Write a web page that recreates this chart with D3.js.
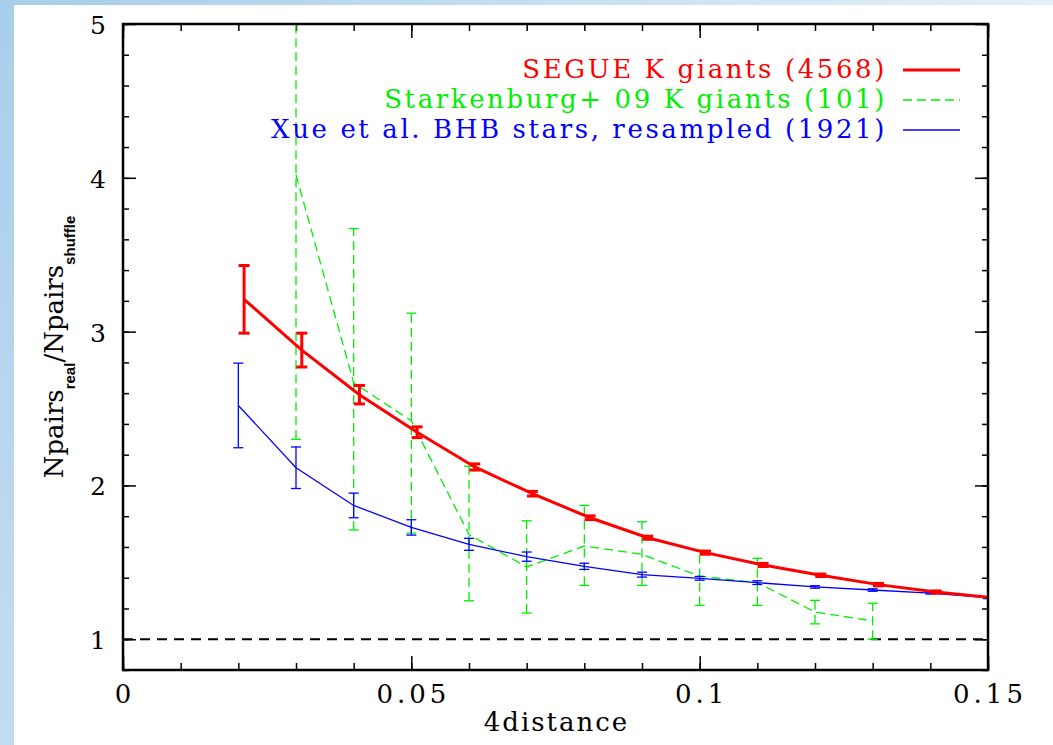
<!DOCTYPE html>
<html>
<head>
<meta charset="utf-8">
<script src="https://cdn.jsdelivr.net/npm/d3@7"></script>
<style>
  html, body { margin: 0; padding: 0; background: #fff; }
  svg { display: block; }
</style>
</head>
<body>
<svg id="chart" width="1053" height="745"></svg>
<script>
// ---------------- data ----------------
const segueX   = [0.021, 0.031, 0.041, 0.051, 0.061, 0.071, 0.081, 0.091, 0.101, 0.111, 0.121, 0.131, 0.141, 0.151];
const segueY   = [3.21, 2.88, 2.59, 2.346, 2.12, 1.946, 1.79, 1.66, 1.563, 1.483, 1.416, 1.355, 1.307, 1.27];
const segueErr = [0.22, 0.11, 0.06, 0.035, 0.02, 0.015, 0.012, 0.01, 0.01, 0.01, 0.008, 0.008, 0.007, 0.007];

const starkX    = [0.03, 0.04, 0.05, 0.06, 0.07, 0.08, 0.09, 0.10, 0.11, 0.12, 0.13];
const starkY    = [4.02, 2.667, 2.42, 1.68, 1.47, 1.606, 1.552, 1.41, 1.368, 1.177, 1.119];
const starkLow  = [2.30, 1.71, 1.69, 1.25, 1.17, 1.35, 1.35, 1.22, 1.22, 1.10, 1.00];
const starkHigh = [5.75, 3.67, 3.12, 2.125, 1.77, 1.87, 1.764, 1.578, 1.526, 1.253, 1.234];

const xueX   = [0.02, 0.03, 0.04, 0.05, 0.06, 0.07, 0.08, 0.09, 0.10, 0.11, 0.12, 0.13, 0.14, 0.15];
const xueY   = [2.52, 2.115, 1.87, 1.727, 1.617, 1.537, 1.474, 1.42, 1.396, 1.368, 1.34, 1.32, 1.30, 1.27];
const xueErr = [0.275, 0.135, 0.08, 0.05, 0.039, 0.03, 0.02, 0.016, 0.012, 0.012, 0.008, 0.008, 0.006, 0.006];

const xTickLabels = ["0", "0.05", "0.1", "0.15"];
const xTickValues = [0, 0.05, 0.1, 0.15];
const yTickValues = [1, 2, 3, 4, 5];
const yTickLabels = ["1", "2", "3", "4", "5"];

const legendLabels = ["SEGUE K giants (4568)", "Starkenburg+ 09 K giants (101)", "Xue et al. BHB stars, resampled (1921)"];
const xLabel = "4distance";

// ---------------- layout ----------------
const svg = d3.select("#chart");
const W = 1053, H = 745;
const L = 123, R = 988, T = 24, B = 670;

const x = d3.scaleLinear().domain([0, 0.15]).range([L, R]);
const y = d3.scaleLinear().domain([0.8, 5]).range([B, T]);

// background
const defs = svg.append("defs");
const gTop = defs.append("linearGradient").attr("id", "gTop").attr("x1", 0).attr("x2", 1).attr("y1", 0).attr("y2", 0);
gTop.append("stop").attr("offset", "0%").attr("stop-color", "#a6cdea");
gTop.append("stop").attr("offset", "100%").attr("stop-color", "#e4f0f9");
const gLeft = defs.append("linearGradient").attr("id", "gLeft").attr("x1", 0).attr("x2", 0).attr("y1", 0).attr("y2", 1);
gLeft.append("stop").attr("offset", "0%").attr("stop-color", "#a8cfea");
gLeft.append("stop").attr("offset", "100%").attr("stop-color", "#c2ddf1");
defs.append("clipPath").attr("id", "plotClip")
  .append("rect").attr("x", L).attr("y", T).attr("width", R - L).attr("height", B - T);

svg.append("rect").attr("x", 0).attr("y", 0).attr("width", W).attr("height", H).attr("fill", "#fff");
svg.append("rect").attr("x", 0).attr("y", 0).attr("width", W).attr("height", 5).attr("fill", "url(#gTop)");
svg.append("rect").attr("x", 0).attr("y", 0).attr("width", 14).attr("height", H).attr("fill", "url(#gLeft)");

// ---------------- axes (inward ticks on all sides) ----------------
const xMinor = d3.range(0, 0.1501, 0.01);
const yMinor = d3.range(0.8, 5.001, 0.2);

function axisGroup(axis, tx, ty) {
  const g = svg.append("g").attr("transform", `translate(${tx},${ty})`).call(axis);
  g.select(".domain").remove();
  g.selectAll("text").remove();
  g.selectAll("line").attr("stroke", "#000").attr("stroke-width", 1.5);
  return g;
}
axisGroup(d3.axisBottom(x).tickValues(xMinor).tickSize(-7), 0, B);
axisGroup(d3.axisBottom(x).tickValues(xTickValues).tickSize(-14), 0, B);
axisGroup(d3.axisTop(x).tickValues(xMinor).tickSize(-7), 0, T);
axisGroup(d3.axisTop(x).tickValues(xTickValues).tickSize(-14), 0, T);
axisGroup(d3.axisLeft(y).tickValues(yMinor).tickSize(-6), L, 0);
axisGroup(d3.axisLeft(y).tickValues(yTickValues).tickSize(-13), L, 0);
axisGroup(d3.axisRight(y).tickValues(yMinor).tickSize(-6), R, 0);
axisGroup(d3.axisRight(y).tickValues(yTickValues).tickSize(-13), R, 0);

const tickFont = "'DejaVu Serif', serif";
svg.append("g").selectAll("text").data(xTickValues).join("text")
  .attr("x", d => x(d) + 2).attr("y", 703)
  .attr("text-anchor", "middle")
  .attr("font-family", tickFont).attr("font-size", 26).attr("letter-spacing", 4)
  .text((d, i) => xTickLabels[i]);
svg.append("g").selectAll("text").data(yTickValues).join("text")
  .attr("x", 106).attr("y", d => y(d) + 10)
  .attr("text-anchor", "end")
  .attr("font-family", tickFont).attr("font-size", 25)
  .text((d, i) => yTickLabels[i]);

// axis titles
svg.append("text").attr("x", (L + R) / 2 + 1).attr("y", 731)
  .attr("text-anchor", "middle").attr("font-family", tickFont).attr("font-size", 26)
  .attr("letter-spacing", 2)
  .text(xLabel);

const yl = svg.append("text")
  .attr("transform", `translate(63,${(T + B) / 2}) rotate(-90)`)
  .attr("text-anchor", "middle").attr("font-family", tickFont).attr("font-size", 26);
yl.append("tspan").text("Npairs");
yl.append("tspan").attr("dy", 12).attr("font-family", "'Liberation Sans', Arial, sans-serif")
  .attr("font-weight", "bold").attr("font-size", 15).text("real");
yl.append("tspan").attr("dy", -12).text("/Npairs");
yl.append("tspan").attr("dy", 12).attr("font-family", "'Liberation Sans', Arial, sans-serif")
  .attr("font-weight", "bold").attr("font-size", 15).text("shuffle");

// ---------------- plot content ----------------
const plot = svg.append("g").attr("clip-path", "url(#plotClip)");

// reference dashed line at 1
plot.append("line")
  .attr("x1", x(0)).attr("x2", x(0.15)).attr("y1", y(1)).attr("y2", y(1))
  .attr("stroke", "#000").attr("stroke-width", 2).attr("stroke-dasharray", "10,7");

function errorBars(g, xs, lo, hi, color, sw, cap, dash) {
  const idx = d3.range(xs.length);
  g.selectAll(null).data(idx).join("line")
    .attr("x1", i => x(xs[i])).attr("x2", i => x(xs[i]))
    .attr("y1", i => y(lo[i])).attr("y2", i => y(hi[i]))
    .attr("stroke", color).attr("stroke-width", sw)
    .attr("stroke-dasharray", dash || null);
  [lo, hi].forEach(arr => {
    g.selectAll(null).data(idx).join("line")
      .attr("x1", i => x(xs[i]) - cap).attr("x2", i => x(xs[i]) + cap)
      .attr("y1", i => y(arr[i])).attr("y2", i => y(arr[i]))
      .attr("stroke", color).attr("stroke-width", sw);
  });
}
const line = d3.line().x(d => x(d[0])).y(d => y(d[1]));

// Starkenburg (green dashed)
const gG = plot.append("g");
errorBars(gG, starkX, starkLow, starkHigh, "#00ee00", 1.3, 5, "9,5");
gG.append("path").datum(starkX.map((v, i) => [v, starkY[i]]))
  .attr("d", line).attr("fill", "none").attr("stroke", "#00ee00")
  .attr("stroke-width", 1.3).attr("stroke-dasharray", "9,5");

// Xue (blue thin)
const gB = plot.append("g");
errorBars(gB, xueX, xueY.map((v, i) => v - xueErr[i]), xueY.map((v, i) => v + xueErr[i]), "#0000ff", 1.3, 5);
gB.append("path").datum(xueX.map((v, i) => [v, xueY[i]]))
  .attr("d", line).attr("fill", "none").attr("stroke", "#0000ff").attr("stroke-width", 1.3);

// SEGUE (red thick)
const gR = plot.append("g");
errorBars(gR, segueX, segueY.map((v, i) => v - segueErr[i]), segueY.map((v, i) => v + segueErr[i]), "#ff0000", 3, 5.5);
gR.append("path").datum(segueX.map((v, i) => [v, segueY[i]]))
  .attr("d", line).attr("fill", "none").attr("stroke", "#ff0000").attr("stroke-width", 3);

// frame
svg.append("rect").attr("x", L).attr("y", T).attr("width", R - L).attr("height", B - T)
  .attr("fill", "none").attr("stroke", "#000").attr("stroke-width", 2.5);

// ---------------- legend ----------------
const legColors = ["#ff0000", "#00ee00", "#0000ff"];
const legWidths = [3, 1.3, 1.3];
const legDash = [null, "9,5", null];
const legBase = [78, 108, 138];
const lg = svg.append("g");
legendLabels.forEach((t, i) => {
  lg.append("text").attr("x", 887).attr("y", legBase[i])
    .attr("text-anchor", "end").attr("font-family", tickFont).attr("font-size", 26)
    .attr("letter-spacing", 2.6)
    .attr("fill", legColors[i]).text(t);
  lg.append("line").attr("x1", 903).attr("x2", 960)
    .attr("y1", legBase[i] - 8).attr("y2", legBase[i] - 8)
    .attr("stroke", legColors[i]).attr("stroke-width", legWidths[i])
    .attr("stroke-dasharray", legDash[i]);
});
</script>
</body>
</html>
